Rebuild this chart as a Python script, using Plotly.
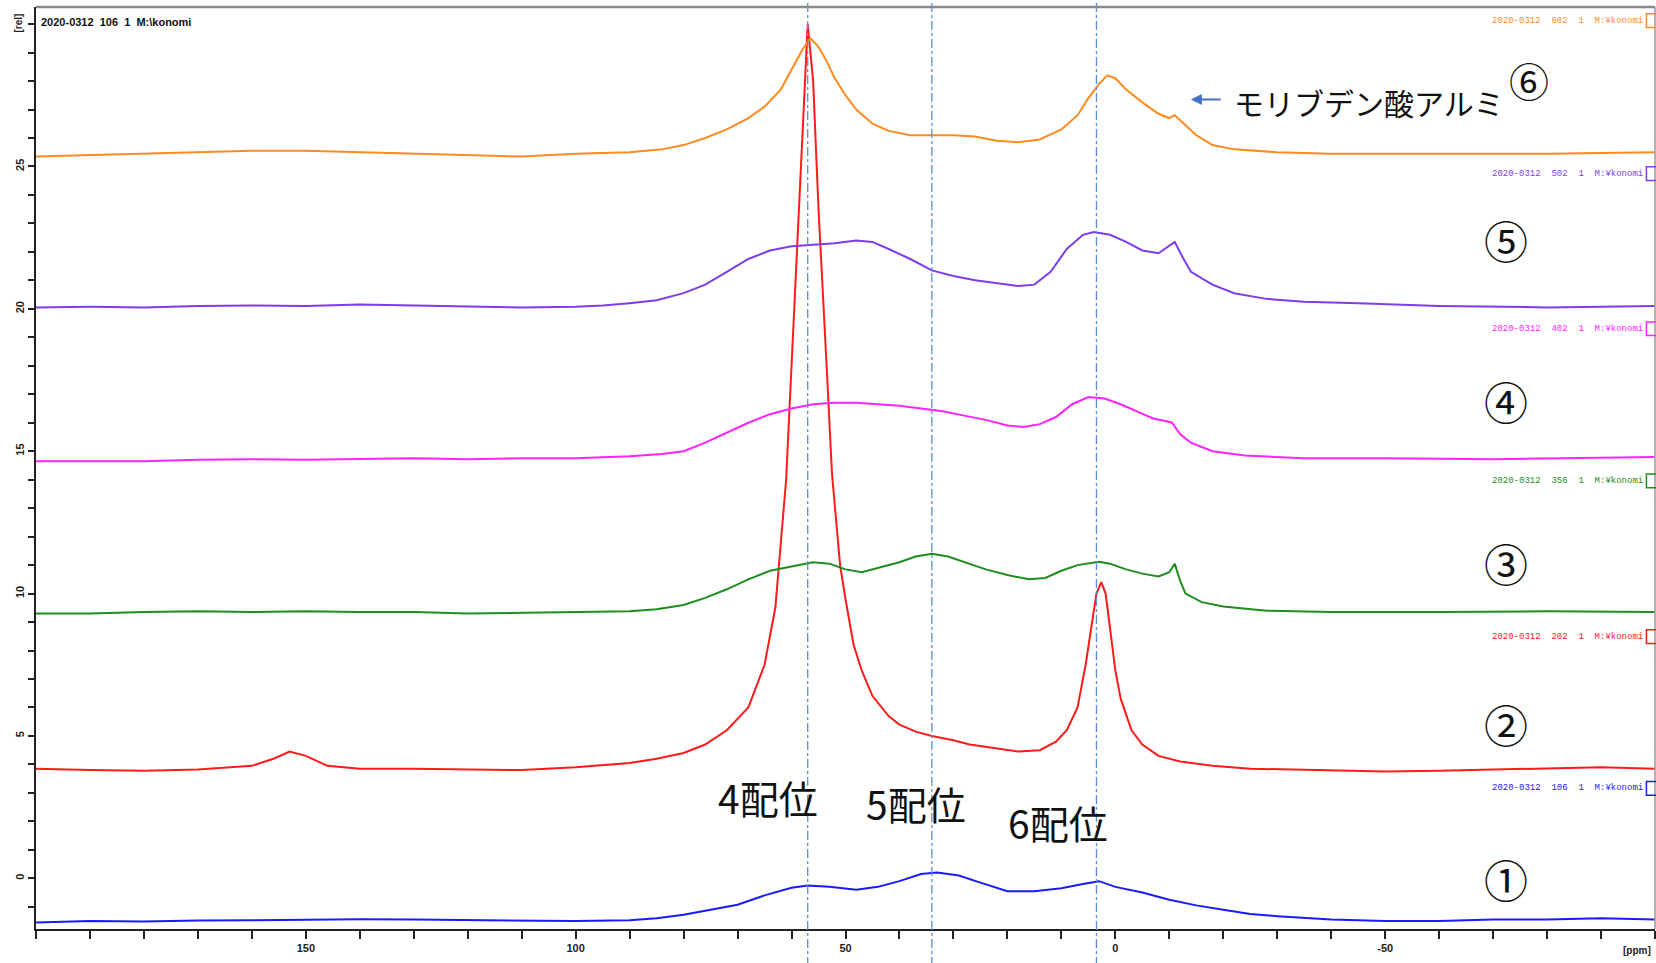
import plotly.graph_objects as go

# ---------------- data ----------------
ppm_1 = [200, 190, 180, 170, 160, 150, 140, 130, 120, 110, 100, 90, 85, 80, 75, 70, 65, 60, 57, 53, 48, 44, 40, 36, 33, 29, 25, 20, 15, 10, 6, 3, 0, -5, -10, -15, -20, -25, -30, -35, -40, -50, -60, -70, -80, -90, -100]
val_1 = [-1.55, -1.5, -1.52, -1.48, -1.47, -1.45, -1.44, -1.45, -1.47, -1.5, -1.5, -1.47, -1.4, -1.28, -1.1, -0.93, -0.6, -0.33, -0.25, -0.3, -0.4, -0.3, -0.1, 0.15, 0.2, 0.1, -0.15, -0.45, -0.45, -0.35, -0.2, -0.1, -0.3, -0.5, -0.75, -0.95, -1.1, -1.25, -1.33, -1.4, -1.45, -1.5, -1.5, -1.45, -1.45, -1.4, -1.45]

ppm_2 = [200, 190, 180, 170, 160, 156, 153, 150, 146, 140, 130, 120, 110, 100, 90, 85, 80, 76, 72, 68, 65, 63, 61, 59.5, 58, 57, 56, 55, 53.5, 52.5, 51, 50, 48.5, 47, 45, 42, 40, 37, 34, 30, 27, 22, 18, 14, 11, 9, 7, 5.5, 4.5, 3.5, 2.6, 1.8, 1, 0, -1, -3, -5, -8, -12, -18, -25, -35, -50, -60, -70, -80, -90, -100]
val_2 = [3.85, 3.8, 3.78, 3.82, 3.95, 4.2, 4.45, 4.3, 3.95, 3.85, 3.85, 3.82, 3.8, 3.9, 4.05, 4.2, 4.4, 4.7, 5.2, 6.0, 7.5, 9.5, 14.0, 20.0, 26.0, 30.0, 28.0, 23.5, 18.0, 14.2, 11.0, 9.8, 8.2, 7.3, 6.4, 5.7, 5.4, 5.15, 5.0, 4.85, 4.7, 4.55, 4.45, 4.5, 4.8, 5.2, 6.0, 7.5, 8.8, 10.0, 10.4, 10.0, 8.8, 7.3, 6.3, 5.2, 4.7, 4.3, 4.1, 3.95, 3.85, 3.8, 3.75, 3.78, 3.82, 3.85, 3.9, 3.85]

ppm_3 = [200, 190, 180, 170, 160, 150, 140, 130, 120, 110, 100, 90, 85, 80, 76, 72, 68, 64, 60, 56, 53, 50, 47, 44, 40, 37, 34, 31, 27, 24, 20, 16, 13, 10, 7, 3, 1, -2, -5, -8, -10, -11, -12, -13, -16, -20, -28, -40, -60, -80, -100]
val_3 = [9.3, 9.3, 9.35, 9.38, 9.35, 9.38, 9.35, 9.35, 9.3, 9.33, 9.35, 9.38, 9.45, 9.6, 9.85, 10.15, 10.5, 10.8, 10.95, 11.1, 11.05, 10.85, 10.75, 10.9, 11.1, 11.3, 11.4, 11.3, 11.05, 10.85, 10.65, 10.5, 10.55, 10.8, 11.0, 11.12, 11.05, 10.85, 10.7, 10.6, 10.75, 11.05, 10.45, 10.0, 9.7, 9.55, 9.4, 9.35, 9.35, 9.38, 9.35]

ppm_4 = [200, 180, 170, 160, 150, 140, 130, 120, 110, 100, 90, 84, 80, 76, 72, 68, 64, 60, 56, 52, 48, 44, 40, 36, 32, 28, 24, 20, 17, 14, 11, 8, 5, 2, -1, -4, -7, -9.5, -10.5, -12, -14, -18, -24, -35, -50, -70, -90, -100]
val_4 = [14.65, 14.65, 14.7, 14.72, 14.7, 14.72, 14.75, 14.72, 14.75, 14.75, 14.82, 14.9, 15.0, 15.3, 15.65, 16.0, 16.3, 16.5, 16.65, 16.7, 16.7, 16.65, 16.6, 16.5, 16.4, 16.25, 16.1, 15.9, 15.85, 15.95, 16.2, 16.65, 16.9, 16.85, 16.65, 16.4, 16.15, 16.05, 16.0, 15.6, 15.3, 15.0, 14.85, 14.75, 14.75, 14.72, 14.78, 14.8]

ppm_5 = [200, 190, 180, 170, 160, 150, 140, 130, 120, 110, 100, 95, 90, 85, 80, 76, 72, 68, 64, 60, 56, 52, 48, 45, 42, 38, 34, 30, 26, 22, 18, 15, 12, 9, 6, 4, 1, -2, -5, -8, -10, -11, -12.5, -14, -18, -22, -28, -35, -45, -60, -80, -100]
val_5 = [20.05, 20.07, 20.05, 20.1, 20.12, 20.1, 20.15, 20.12, 20.08, 20.05, 20.07, 20.12, 20.2, 20.3, 20.55, 20.85, 21.3, 21.75, 22.05, 22.2, 22.25, 22.3, 22.4, 22.35, 22.1, 21.75, 21.35, 21.15, 21.0, 20.9, 20.8, 20.85, 21.3, 22.1, 22.6, 22.7, 22.6, 22.35, 22.05, 21.95, 22.2, 22.35, 21.8, 21.3, 20.85, 20.55, 20.35, 20.25, 20.2, 20.1, 20.05, 20.1]

ppm_6 = [200, 190, 180, 170, 160, 150, 140, 130, 120, 110, 100, 90, 84, 80, 76, 72, 68, 65, 62, 60, 58, 56.5, 55, 53.5, 52, 50, 48, 45, 42, 38, 34, 30, 26, 22, 18, 14, 10, 7, 5, 3, 1.5, 0, -2, -5, -8, -10, -11, -12.5, -15, -18, -22, -30, -40, -60, -80, -100]
val_6 = [25.35, 25.4, 25.45, 25.5, 25.55, 25.55, 25.5, 25.45, 25.4, 25.35, 25.45, 25.5, 25.6, 25.75, 26.0, 26.3, 26.7, 27.1, 27.7, 28.4, 29.1, 29.5, 29.2, 28.7, 28.1, 27.5, 27.0, 26.5, 26.25, 26.1, 26.1, 26.1, 26.05, 25.9, 25.85, 25.95, 26.3, 26.8, 27.4, 27.9, 28.2, 28.1, 27.7, 27.25, 26.85, 26.7, 26.8, 26.55, 26.1, 25.75, 25.6, 25.5, 25.45, 25.45, 25.45, 25.5]

series_colors = ["#1a1aff", "#ff1a1a", "#1e8c1e", "#ff22ff", "#7d3de8", "#ff8a1e"]
series_names = ["①", "②", "③", "④", "⑤", "⑥"]
series_ids = ["106", "202", "356", "402", "502", "602"]
label_y = [3.16, 8.49, 13.96, 19.3, 24.75, 30.12]
circle_x = [-72.4, -72.4, -72.4, -72.4, -72.4, -76.6]
circle_y = [-0.04, 5.42, 11.09, 16.77, 22.4, 28.02]
circle_size = [44, 44, 44, 44, 44, 40]

ref_lines_ppm = [57, 34, 3.5]
coord_labels = ["4配位", "5配位", "6配位"]
coord_label_x = [64.3, 36.9, 10.6]
coord_label_y = [2.85, 2.65, 1.98]

x_major = [150, 100, 50, 0, -50]
y_major = [0, 5, 10, 15, 20, 25]

all_ppm = [ppm_1, ppm_2, ppm_3, ppm_4, ppm_5, ppm_6]
all_val = [val_1, val_2, val_3, val_4, val_5, val_6]

# ---------------- figure ----------------
fig = go.Figure()
for p, v, c, n in zip(all_ppm, all_val, series_colors, series_names):
    fig.add_trace(go.Scatter(x=p, y=v, mode="lines", name=n,
                             line=dict(color=c, width=2), showlegend=False))

shapes = []
for xv in ref_lines_ppm:
    shapes.append(dict(type="line", xref="x", yref="paper", x0=xv, x1=xv,
                       y0=-0.04, y1=1.01,
                       line=dict(color="#5b8fd0", width=1.3, dash="dashdot")))
# top frame line
shapes.append(dict(type="line", xref="paper", yref="paper", x0=0, x1=1, y0=1, y1=1,
                   line=dict(color="#8a8a8a", width=2.5)))
shapes.append(dict(type="line", xref="paper", yref="paper", x0=1, x1=1, y0=0, y1=1,
                   line=dict(color="#9a9a9a", width=1.5)))

annotations = []
# series labels at right with small boxes
for c, sid, ly in zip(series_colors, series_ids, label_y):
    annotations.append(dict(xref="paper", yref="y", x=0.9938, y=ly, xanchor="right", yanchor="middle",
                            text=f"2020-0312  {sid}  1  M:¥konomi", showarrow=False,
                            font=dict(family="Liberation Mono", size=9, color=c)))
    shapes.append(dict(type="rect", xref="paper", yref="y", x0=0.9947, x1=1.006,
                       y0=ly - 0.24, y1=ly + 0.24, line=dict(color=c, width=1.5)))

# circled numbers
for n, cx, cy, cs in zip(series_names, circle_x, circle_y, circle_size):
    annotations.append(dict(xref="x", yref="y", x=cx, y=cy, text=n, showarrow=False,
                            xanchor="center", yanchor="middle",
                            font=dict(family="Noto Sans CJK JP", size=cs, color="#111111")))

# coordination labels
for t, lx, ly in zip(coord_labels, coord_label_x, coord_label_y):
    annotations.append(dict(xref="x", yref="y", x=lx, y=ly, text=t, showarrow=False,
                            xanchor="center", yanchor="middle",
                            font=dict(family="Noto Sans CJK JP", size=39, color="#111111")))

# arrow + text
annotations.append(dict(xref="x", yref="y", x=-14.0, y=27.35, ax=-19.8, ay=27.35,
                        axref="x", ayref="y", text="", showarrow=True,
                        arrowhead=2, arrowsize=1.1, arrowwidth=2, arrowcolor="#4472c4"))
annotations.append(dict(xref="x", yref="y", x=-21.6, y=27.25, text="モリブデン酸アルミ",
                        showarrow=False, xanchor="left", yanchor="middle",
                        font=dict(family="Noto Sans CJK JP", size=30, color="#111111")))

# top-left id
annotations.append(dict(xref="paper", yref="y", x=0.002, y=30.06, text="2020-0312  106  1  M:\\konomi",
                        showarrow=False, xanchor="left", yanchor="middle",
                        font=dict(family="Liberation Sans", size=11, color="#111111", weight="bold")))
# axis unit labels
annotations.append(dict(xref="paper", yref="paper", x=-0.0105, y=0.982, text="[rel]", textangle=-90,
                        showarrow=False, xanchor="center", yanchor="middle",
                        font=dict(family="Liberation Sans", size=10, color="#222222", weight="bold")))
annotations.append(dict(xref="paper", yref="paper", x=0.999, y=-0.015, text="[ppm]",
                        showarrow=False, xanchor="right", yanchor="top",
                        font=dict(family="Liberation Sans", size=10, color="#222222", weight="bold")))

fig.update_layout(
    width=1656, height=963,
    margin=dict(l=36, r=1, t=7, b=34),
    paper_bgcolor="white", plot_bgcolor="white",
    shapes=shapes, annotations=annotations,
    xaxis=dict(range=[200, -100], showgrid=False, zeroline=False,
               showline=True, linecolor="#222222", linewidth=2,
               tickmode="array", tickvals=x_major, ticktext=[str(v) for v in x_major],
               ticks="outside", ticklen=8, tickwidth=1.5, tickcolor="#222222",
               minor=dict(dtick=10, ticks="outside", ticklen=8, tickwidth=1.5, tickcolor="#222222"),
               tickfont=dict(family="Liberation Sans", size=11, color="#222222", weight="bold")),
    yaxis=dict(range=[-1.78, 30.6], showgrid=False, zeroline=False,
               showline=True, linecolor="#222222", linewidth=2,
               tickmode="array", tickvals=y_major, ticktext=[str(v) for v in y_major],
               ticks="outside", ticklen=6, tickwidth=1.5, tickcolor="#222222",
               tickangle=-90,
               minor=dict(tick0=0, dtick=1, ticks="outside", ticklen=6, tickwidth=1.5, tickcolor="#222222"),
               tickfont=dict(family="Liberation Sans", size=11, color="#222222", weight="bold")),
)

fig.write_html("out.html")
